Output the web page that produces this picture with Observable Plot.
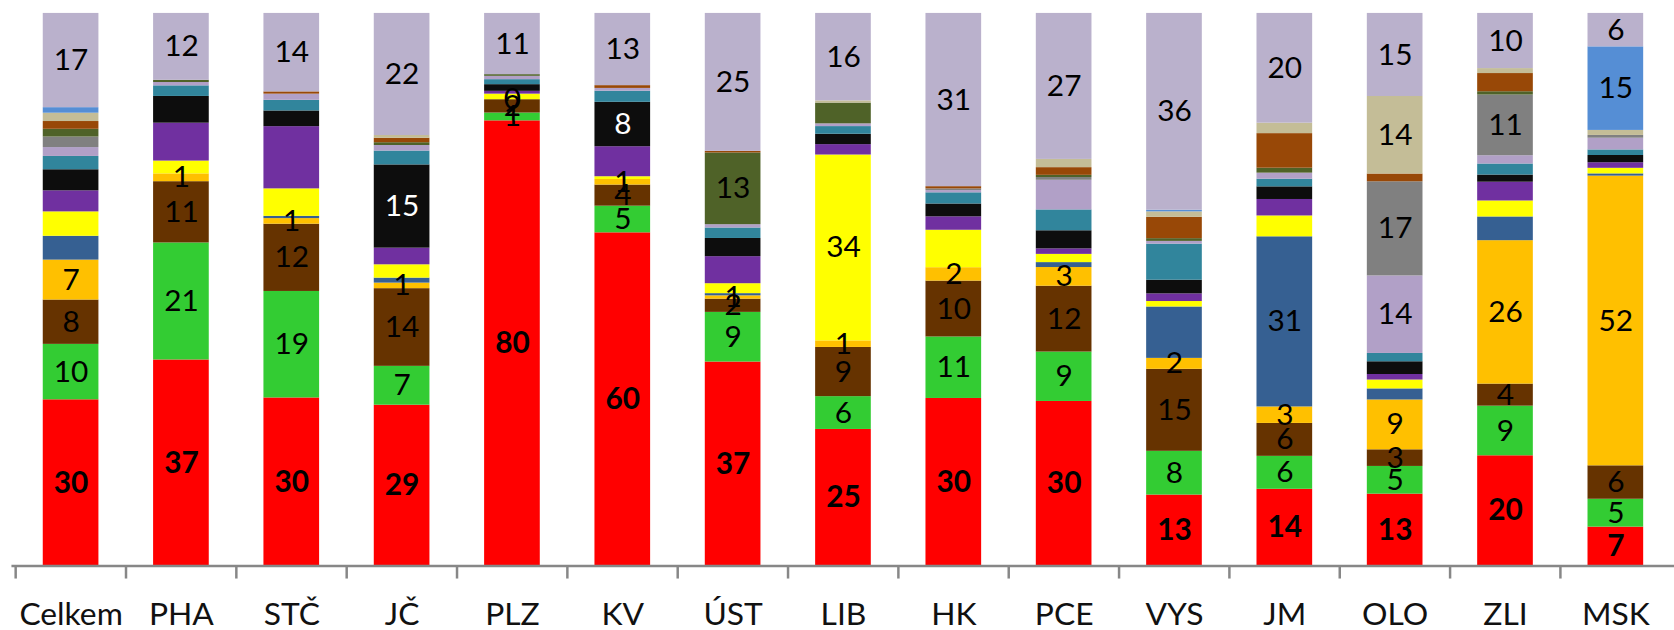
<!DOCTYPE html>
<html>
<head>
<meta charset="utf-8">
<script src="https://cdn.jsdelivr.net/npm/d3@7"></script>
<script src="https://cdn.jsdelivr.net/npm/@observablehq/plot@0.6"></script>
<style>
html, body { margin: 0; padding: 0; overflow: hidden; background: #ffffff; }
#chart svg { display: block; }
</style>
</head>
<body>
<div id="chart"></div>
<script>
// Categories (regions)
const categories = ["Celkem", "PHA", "STČ", "JČ", "PLZ", "KV", "ÚST", "LIB", "HK", "PCE", "VYS", "JM", "OLO", "ZLI", "MSK"];

// Series names (bottom to top) and colours
const seriesNames = ["Řada 1", "Řada 2", "Řada 3", "Řada 4", "Řada 5", "Řada 6", "Řada 7", "Řada 8",
                     "Řada 9", "Řada 10", "Řada 11", "Řada 12", "Řada 13", "Řada 14", "Řada 15", "Řada 16"];
const seriesColors = ["#FF0000", "#33CC33", "#663300", "#FFC000", "#366092", "#FFFF00", "#7030A0", "#0D0D0D",
                      "#31859C", "#B1A0C7", "#808080", "#4F6228", "#984807", "#C4BD97", "#558ED5", "#BAB1CC"];

// Series values (per category, same order as categories)
const s01 = [30, 37, 30, 29, 80, 60, 37, 25, 30, 30, 13, 14, 13, 20, 7];
const s02 = [10, 21, 19, 7, 1.4, 4.8, 9, 6, 11, 9, 8, 6, 5, 9, 5];
const s03 = [8, 11, 12, 14, 2.4, 3.8, 2.4, 9, 10, 12, 15, 6, 3, 4, 6];
const s04 = [7.2, 1.4, 1.0, 1.0, 0, 1.0, 0.6, 1.2, 2.4, 3.4, 2, 3, 9, 26, 52];
const s05 = [4.3, 0, 0.4, 0.9, 0, 0, 0.4, 0, 0, 0.9, 9.4, 31, 2.0, 4.3, 0.4];
const s06 = [4.4, 2.3, 4.9, 2.4, 1.0, 0.5, 1.8, 34, 6.7, 1.5, 1.0, 3.8, 1.6, 2.9, 1.0];
const s07 = [3.8, 6.8, 11.1, 3.0, 0.5, 5.4, 4.9, 1.9, 2.4, 1.0, 1.4, 3.0, 1.0, 3.4, 1.0];
const s08 = [3.8, 4.8, 2.8, 15, 1.2, 8, 3.3, 1.9, 2.3, 3.3, 2.5, 2.3, 2.3, 1.3, 1.3];
const s09 = [2.4, 1.9, 1.9, 2.5, 0.9, 2.0, 1.9, 1.4, 2.0, 3.8, 6.6, 1.4, 1.5, 2.0, 1.0];
const s10 = [1.6, 0.6, 1.1, 1.0, 0.6, 0.5, 0.6, 0.5, 0.4, 5.4, 0.5, 1.1, 14, 1.5, 2.1];
const s11 = [1.9, 0, 0, 0, 0, 0, 0, 0, 0.3, 0.5, 0, 0, 17, 11, 0.5];
const s12 = [1.4, 0.4, 0, 0.5, 0.3, 0, 13, 3.8, 0, 0.4, 0.5, 0.9, 0, 0.6, 0];
const s13 = [1.4, 0, 0.4, 0.8, 0, 0.5, 0.3, 0, 0.4, 1.4, 3.9, 6.3, 1.4, 3.3, 0];
const s14 = [1.5, 0, 0, 0.5, 0, 0, 0, 0.4, 0, 1.5, 1.0, 1.9, 14, 0.9, 0.9];
const s15 = [1.0, 0, 0, 0, 0, 0, 0, 0, 0, 0, 0.3, 0, 0, 0, 15];
const s16 = [17, 12, 14, 22, 11, 13, 25, 16, 31, 26.6, 36, 20, 15, 10, 6];
const seriesValues = [s01, s02, s03, s04, s05, s06, s07, s08, s09, s10, s11, s12, s13, s14, s15, s16];

// Which labels are shown
const labelledSeries = ["Řada 1", "Řada 2", "Řada 3", "Řada 4", "Řada 16"];
const labelledExtra = [["JČ", "Řada 8"], ["KV", "Řada 8"], ["ÚST", "Řada 12"], ["LIB", "Řada 6"], ["JM", "Řada 5"],
                       ["OLO", "Řada 11"], ["OLO", "Řada 10"], ["OLO", "Řada 14"], ["ZLI", "Řada 11"], ["MSK", "Řada 15"]];

const data = categories.flatMap((c, i) =>
  seriesNames.map((s, j) => ({category: c, series: s, value: seriesValues[j][i]})));

const isLabelled = d => labelledSeries.includes(d.series) ||
  labelledExtra.some(([c, s]) => c === d.category && s === d.series);
const fmt = v => String(Math.round(v));

const width = 1684, height = 630, marginLeft = 11.5, marginRight = 0, marginTop = 13, marginBottom = 61;
const step = (width - marginLeft - marginRight) / categories.length;

const stackOpts = {x: "category", y: "value", z: "series", order: seriesNames, offset: "normalize"};
const labelFont = "Lato, 'Open Sans', sans-serif";

const chart = Plot.plot({
  width, height, marginLeft, marginRight, marginTop, marginBottom,
  style: {fontFamily: labelFont, background: "#ffffff"},
  x: {domain: categories, paddingInner: 0.5, paddingOuter: 0.25, label: null},
  y: {domain: [0, 1], axis: null},
  color: {domain: seriesNames, range: seriesColors},
  marks: [
    Plot.barY(data, Plot.stackY({...stackOpts, fill: "series"})),
    // red series labels: bold
    Plot.text(data, Plot.stackY({...stackOpts,
      text: d => (d.series === "Řada 1" && isLabelled(d)) ? fmt(d.value) : "",
      fontSize: 30, fontWeight: "bold", fill: "#000000"})),
    // black series labels: white
    Plot.text(data, Plot.stackY({...stackOpts,
      text: d => (d.series === "Řada 8" && isLabelled(d)) ? fmt(d.value) : "",
      fontSize: 30, fill: "#ffffff"})),
    // other labels
    Plot.text(data, Plot.stackY({...stackOpts,
      text: d => (d.series !== "Řada 1" && d.series !== "Řada 8" && isLabelled(d)) ? fmt(d.value) : "",
      fontSize: 30, fill: "#000000"})),
    Plot.ruleY([0], {stroke: "#878787", strokeWidth: 2.5}),
    // boundary ticks
    Plot.axisX({tickSize: 13, dx: -step / 2, tickFormat: () => "", stroke: "#878787", strokeWidth: 2.5, label: null}),
    // category labels
    Plot.axisX({tickSize: 0, tickPadding: 37, fontSize: 32, fill: "#111111", label: null})
  ]
});
document.getElementById("chart").append(chart);
</script>
</body>
</html>
